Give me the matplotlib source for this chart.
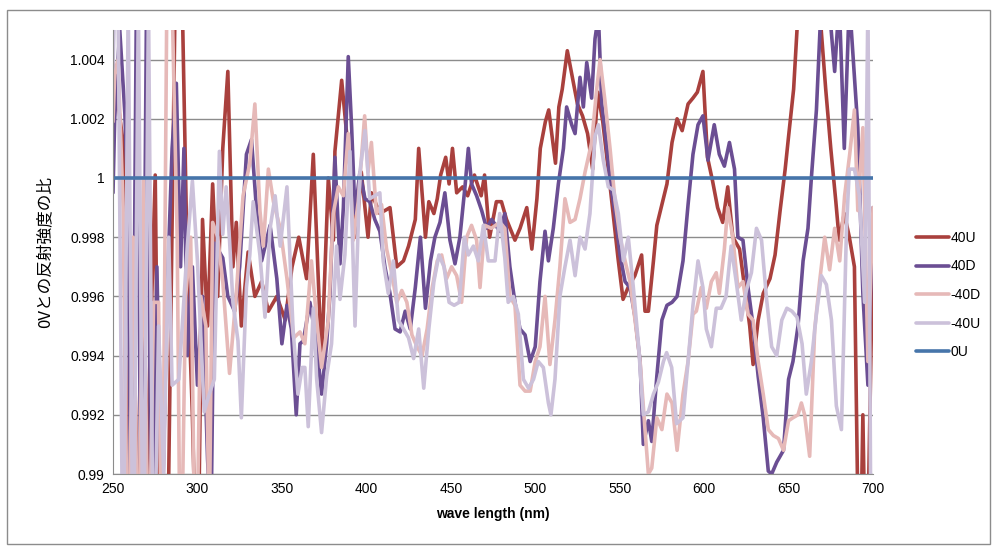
import matplotlib
matplotlib.use("Agg")
import matplotlib.pyplot as plt
from matplotlib.patches import Rectangle
from matplotlib.ticker import FuncFormatter

# 40U
wl_40u = [250, 253, 256, 259, 263, 267, 271, 275, 278, 283, 287, 291, 294, 297, 300, 303, 306, 309,
          312, 315, 318, 321, 323, 326, 330, 334, 338, 342, 347, 352, 356, 360, 364.6, 368.6, 373.5,
          377.5, 380.5, 381.4, 385.4, 388, 391, 394, 397, 401, 403, 408, 414, 418, 422, 425, 429, 431,
          435, 437, 440, 442, 444, 447, 449, 451, 453.5, 457, 460, 464, 468, 470, 473, 477, 480, 483,
          488, 491, 495, 498, 501, 503, 506, 508, 512, 514, 516, 519, 522, 525, 528, 531, 534, 537,
          540, 544, 549, 552, 555, 559, 563, 565, 567, 570, 572, 575, 578, 581, 584, 587, 590.5,
          593.4, 596, 599.3, 602, 605, 608, 611, 614, 617, 621, 624, 627, 629, 632, 635, 639, 642,
          645, 648, 650, 653, 656, 662, 668, 672, 675, 678, 680, 683, 686, 689, 692, 694, 696, 700]
val_40u = [1.004, 1.0025, 1.0012, 0.985, 0.993, 0.984, 0.992, 1.0001, 0.984, 0.99, 1.007, 1.006,
           0.997, 0.992, 0.985, 0.9986, 0.995, 0.9998, 0.996, 1.001, 1.0036, 0.997, 0.9985, 0.995,
           0.9975, 0.996, 0.9965, 0.9955, 0.996, 0.9952, 0.997, 0.998, 0.9966, 1.0008, 0.9938,
           1.0, 0.9979, 1.0009, 1.0033, 1.0017, 1.0, 0.998, 1.0002, 0.998, 0.9995, 0.9988, 0.999,
           0.997, 0.9972, 0.9977, 0.9986, 1.001, 0.998, 0.9992, 0.9988, 0.9993, 1.0001, 1.0007,
           0.9998, 1.001, 0.9995, 0.9997, 0.9994, 1.0001, 0.9994, 1.0001, 0.998, 0.9992, 0.9992,
           0.9986, 0.9979, 0.9983, 0.999, 0.9976, 0.9993, 1.001, 1.0019, 1.0023, 1.0005, 1.0024,
           1.003, 1.0043, 1.0034, 1.0025, 1.0021, 1.0015, 1.0003, 1.0029, 1.0019, 0.9999, 0.9973,
           0.9959, 0.9963, 0.9967, 0.9974, 0.9955, 0.9955, 0.9972, 0.9984, 0.9991, 0.9998, 1.0012,
           1.002, 1.0016, 1.0025, 1.0027, 1.0029, 1.0036, 1.0007, 0.9999, 0.999, 0.9985, 0.9997,
           0.998, 0.9976, 0.9963, 0.995, 0.9937, 0.9952, 0.9961, 0.9966, 0.9974, 0.9989, 1.0003,
           1.0014, 1.003, 1.006, 1.0065, 1.006, 1.003, 1.001, 0.9992, 0.9979, 0.9988, 0.998, 0.997,
           0.985, 0.992, 0.985, 0.998]

# 40D
wl_40d = [250, 251, 254, 257, 259, 261, 264, 267, 270, 273, 276, 279, 282, 285, 287.5, 290, 292,
          294, 297, 300, 303, 306, 308, 310, 315, 318, 322, 325, 329, 332, 335, 338, 343, 347, 350,
          353, 355.6, 358.5, 360.7, 362.7, 366.6, 370.6, 373.5, 376.5, 378.5, 381.4, 384.4, 386.4,
          389.3, 391.3, 393.3, 396.2, 399.2, 402, 405, 408, 411, 414, 417, 420, 423, 426, 429, 432,
          435, 438, 440.6, 443.6, 446.5, 449.5, 452.5, 455.4, 458.4, 460.4, 462.3, 465.3, 468.3,
          471.2, 474.2, 479, 482, 485, 488, 491, 494, 497, 500, 502.8, 505.8, 507.8, 510.7, 513.7,
          516.7, 518.6, 521.6, 523.6, 526.5, 528.5, 530.5, 533.4, 535.4, 537.4, 539.4, 542.3, 544.3,
          547.3, 550.2, 553.2, 556.1, 559.1, 562.1, 564, 567, 569, 572, 575, 578, 581, 584, 587.5,
          590.5, 593.4, 596.4, 599.3, 602.3, 606, 609, 612, 615, 618, 620, 623, 626, 629, 632, 635,
          638, 640, 643, 647, 650, 652.6, 655.6, 658.6, 661.5, 663.5, 666.5, 669.4, 673, 677.3, 680,
          683, 686, 689, 691, 694, 697, 700]
val_40d = [0.9995, 1.002, 1.005, 1.0022, 0.999, 0.985, 1.007, 0.985, 1.007, 0.985, 0.997, 0.988,
           0.996, 1.001, 1.0032, 0.997, 1.001, 0.994, 0.997, 0.993, 0.996, 0.9905, 0.988, 0.9978,
           0.9973, 0.996, 0.9955, 0.997, 1.0008, 1.0013, 0.9989, 0.9972, 0.9984, 0.9966, 0.9944,
           0.9957, 0.9949, 0.992, 0.9944, 0.9945, 0.9958, 0.9944, 0.9927, 0.9944, 0.9961, 1.0007,
           0.9971, 0.999, 1.0041, 1.0017, 0.9988, 1.0002, 0.9993, 0.9992, 0.9986, 0.9982, 0.997,
           0.9961, 0.9949, 0.9948, 0.9955, 0.9949, 0.9963, 0.998, 0.9956, 0.9972, 0.998, 0.9985,
           0.9995, 0.9979, 0.9971, 0.998, 0.9997, 1.001, 0.9998, 0.9994, 0.9989, 0.9983, 0.9986,
           0.9982, 0.9988, 0.997, 0.9958, 0.9949, 0.9947, 0.9938, 0.9943, 0.9965, 0.9982, 0.9972,
           0.9983, 0.9998, 1.001, 1.0024, 1.0018, 1.0015, 1.0034, 1.0024, 1.0039, 1.0027, 1.0047,
           1.0055, 1.0025, 1.0011, 0.9999, 0.9988, 0.9974, 0.9965, 0.9963, 0.9953, 0.9938, 0.991,
           0.9918, 0.9911, 0.9933, 0.9952, 0.9957, 0.9958, 0.996, 0.9972, 0.9991, 1.0008, 1.0018,
           1.0021, 1.0006, 1.0018, 1.0008, 1.0004, 1.0012, 1.0003, 0.998, 0.9979, 0.9963, 0.995,
           0.9933, 0.9919, 0.9901, 0.99, 0.9904, 0.9908, 0.9932, 0.9938, 0.995, 0.9972, 0.9983,
           1.0, 1.0023, 1.006, 1.0065, 1.0036, 1.006, 1.001, 1.006, 1.0034, 1.0017, 0.9961, 0.993,
           0.999]

# -40D
wl_m40d = [250, 251, 253, 256, 259, 262, 265, 268, 271, 274, 277, 279, 282, 285, 288, 290, 293,
           296, 299, 302, 305, 307, 309, 312, 315, 319, 323, 327, 331, 334, 337, 339, 342, 345, 349,
           353, 357, 360.7, 363.6, 367.5, 370.6, 373.5, 377.5, 380.4, 383.4, 386.4, 389.3, 392.3,
           395.2, 399, 401, 403, 406, 409, 412, 415, 418, 421, 424, 427, 430, 433, 436, 439, 442,
           444.6, 447.5, 450.5, 453.5, 456.4, 459.4, 462.3, 465.3, 467.3, 470.2, 474, 479, 482, 485,
           488, 491, 494, 497, 500, 502.8, 505.8, 508.7, 511.7, 514.6, 517.6, 520.6, 523.6, 526.5,
           529.5, 533.4, 536.4, 538.4, 541.3, 544.3, 547.3, 550.2, 553.2, 556.1, 559.1, 562.1, 565,
           567, 569, 572, 575, 578, 581, 584, 587.5, 590.5, 593.4, 595.4, 598.3, 601.3, 604.3, 607.2,
           609, 612, 614, 617, 620, 623, 626, 629, 632, 635, 638, 641, 644, 647, 650, 652.6, 655.6,
           657.6, 659.5, 662.5, 665.5, 668.4, 671.4, 674.3, 677.3, 680.3, 683.2, 686.2, 689, 691,
           694, 697, 700]
val_m40d = [1.0019, 1.0035, 1.004, 0.999, 0.985, 0.998, 0.985, 1.0, 0.985, 0.9958, 0.9958, 0.985,
            1.007, 1.006, 0.998, 0.985, 0.996, 0.998, 0.985, 0.996, 0.995, 0.988, 0.9985, 0.998,
            0.9965, 0.9934, 0.9961, 0.9994, 1.0005, 1.0025, 0.9989, 0.9977, 1.0003, 0.9992, 0.9983,
            0.9966, 0.9946, 0.9948, 0.9944, 0.9972, 0.9952, 0.9936, 0.9952, 0.9988, 0.9997, 0.9994,
            1.0015, 0.9979, 0.9992, 1.0021, 1.0002, 1.0012, 0.9988, 0.9991, 0.9976, 0.9968, 0.9958,
            0.9962, 0.9958, 0.9947, 0.9943, 0.994, 0.9949, 0.9963, 0.9972, 0.9974, 0.9966, 0.997,
            0.9967, 0.9958, 0.998, 0.9984, 0.9979, 0.9963, 0.9984, 0.9983, 0.9985, 0.9983, 0.996,
            0.9957, 0.993, 0.9928, 0.9928, 0.9938, 0.9943, 0.996, 0.9937, 0.9952, 0.997, 0.9993,
            0.9985, 0.9986, 0.9993, 1.0002, 1.0012, 1.003, 1.004, 1.0026, 1.001, 0.9992, 0.998,
            0.9972, 0.9965, 0.9952, 0.9938, 0.9915, 0.99, 0.9902, 0.9919, 0.9915, 0.9927, 0.9924,
            0.9908, 0.9927, 0.9938, 0.9954, 0.9955, 0.9963, 0.9956, 0.9965, 0.9968, 0.9961, 0.9976,
            0.999, 0.998, 0.9963, 0.9965, 0.9954, 0.9952, 0.9938, 0.9927, 0.9915, 0.9913, 0.9912,
            0.9908, 0.9918, 0.9919, 0.992, 0.9924, 0.992, 0.9906, 0.9949, 0.9965, 0.998, 0.9969,
            0.9983, 0.9972, 0.9994, 1.0008, 1.0023, 0.9989, 1.0017, 0.9938, 0.999]

# -40U
wl_m40u = [250, 251, 253, 256, 259, 262, 265, 268, 271, 274, 277, 280, 283, 285, 289, 294, 297,
           300, 304, 307, 310, 313, 315, 317, 319, 321, 324, 326, 329, 331, 333, 337, 340, 343, 346,
           349, 353, 356.6, 359.5, 362, 363.6, 365.6, 368.6, 370.6, 373.5, 376.5, 379.4, 382.4,
           384.4, 387.3, 390.3, 393.3, 396.2, 399.2, 402, 405, 408, 410, 413, 416, 419, 422, 425,
           428, 431, 434, 437, 440, 443, 446, 449, 452, 455, 458, 460.4, 463.4, 466.3, 469.3, 472.2,
           476.2, 479, 482, 484, 487, 490, 493, 496, 499, 501.8, 504.8, 507.8, 509.3, 511.7, 514.6,
           517.6, 520.6, 523.6, 526.5, 529.5, 532.4, 535.4, 537.4, 540.3, 543.3, 546.3, 549.2,
           552.2, 555.1, 558.1, 561.1, 564, 567, 570, 572.9, 575.9, 577.8, 580.8, 583.7, 587.5,
           590.5, 593.4, 596.4, 599.3, 601.3, 604.3, 607.2, 610, 613, 616, 619, 622, 625, 628, 631,
           634, 637, 640, 643, 646, 649, 652, 655, 658, 660.5, 663.5, 666.5, 669.4, 672.4, 675.4,
           678.3, 681.3, 684.3, 686, 689, 692, 695, 697, 699, 700]
val_m40u = [1.0037, 1.006, 1.006, 0.985, 1.006, 0.985, 1.006, 0.985, 1.006, 0.985, 0.995, 0.99,
            0.998, 0.993, 0.9932, 0.9977, 0.9999, 0.9972, 0.9921, 0.9927, 0.9932, 1.0009, 0.9981,
            0.9997, 0.9979, 0.9958, 0.9945, 0.9919, 0.9963, 0.9974, 0.9992, 0.9974, 0.9953, 0.9983,
            0.9994, 0.9977, 0.9997, 0.9949, 0.9927, 0.9936, 0.9936, 0.9916, 0.9956, 0.9932, 0.9914,
            0.9933, 0.9944, 0.9977, 0.9959, 0.9974, 1.0009, 0.995, 1.0002, 1.0016, 0.9993, 0.9994,
            0.9995, 0.9972, 0.9961, 0.9972, 0.9952, 0.9949, 0.9946, 0.9939, 0.9949, 0.9929, 0.9949,
            0.9965, 0.9974, 0.997, 0.9958, 0.9957, 0.9958, 0.998, 0.9974, 0.9977, 0.9972, 0.9984,
            0.9972, 0.9972, 0.9988, 0.9973, 0.9958, 0.996, 0.9954, 0.9932, 0.9929, 0.9932, 0.9938,
            0.9936, 0.9924, 0.992, 0.9932, 0.996, 0.997, 0.9979, 0.9967, 0.998, 0.9976, 0.9988,
            1.0014, 1.0018, 1.0006, 0.9997, 0.9996, 0.9988, 0.9972, 0.998, 0.9963, 0.9944, 0.992,
            0.9921, 0.9927, 0.9931, 0.9938, 0.9941, 0.9936, 0.9917, 0.9919, 0.9938, 0.9957, 0.9972,
            0.9963, 0.9949, 0.9943, 0.9956, 0.9956, 0.996, 0.9977, 0.9965, 0.9952, 0.9962, 0.9968,
            0.9983, 0.9979, 0.9959, 0.9943, 0.994, 0.9952, 0.9956, 0.9955, 0.9953, 0.9944, 0.9927,
            0.9938, 0.9954, 0.9967, 0.9964, 0.9952, 0.9923, 0.9915, 0.9983, 1.0003, 1.0003, 0.9994,
            0.9958, 1.006, 0.985, 0.989]

# 0U (reference)
wl_0u = [250, 700]
val_0u = [1.0, 1.0]

series = [
    ("40U", wl_40u, val_40u, "#A9403D"),
    ("40D", wl_40d, val_40d, "#6B4E93"),
    ("-40D", wl_m40d, val_m40d, "#E6B9B8"),
    ("-40U", wl_m40u, val_m40u, "#CCC1DA"),
    ("0U", wl_0u, val_0u, "#4675AA"),
]

plt.rcParams["font.family"] = ["Liberation Sans", "DejaVu Sans"]

fig = plt.figure(figsize=(9.92, 5.48), dpi=100)
ax = fig.add_axes([113 / 992, 1 - 474 / 548, 760 / 992, 444 / 548])

for name, x, y, c in series:
    ax.plot(x, y, color=c, lw=2.6, label=name,
            solid_joinstyle="round", solid_capstyle="round")

ax.set_xlim(250, 700)
ax.set_ylim(0.99, 1.005)
ax.set_xticks(range(250, 701, 50))
ax.set_yticks([0.99, 0.992, 0.994, 0.996, 0.998, 1.0, 1.002, 1.004])
ax.yaxis.set_major_formatter(FuncFormatter(lambda v, p: "%g" % round(v, 3)))
ax.grid(axis="y", color="#8c8c8c", lw=1)
ax.set_axisbelow(True)
for s in ["top", "right"]:
    ax.spines[s].set_visible(False)
for s in ["left", "bottom"]:
    ax.spines[s].set_color("#8c8c8c")
ax.tick_params(axis="both", length=0, labelsize=10, colors="#000000", pad=6)

ax.set_xlabel("wave length (nm)", fontsize=10, fontweight="bold", labelpad=8)
ax.set_ylabel("0Vとの反射強度の比", fontsize=12,
              family=["Noto Sans CJK JP", "DejaVu Sans"], labelpad=12)

fig.legend(loc="center left", bbox_to_anchor=(903 / 992, 1 - 295 / 548),
           frameon=False, fontsize=10, handlelength=2.4, handletextpad=0.1,
           labelspacing=1.05)

fig.patches.append(Rectangle((7 / 992, 4 / 548), 983 / 992, 534 / 548,
                             transform=fig.transFigure, fill=False,
                             edgecolor="#8c8c8c", lw=1))

fig.savefig("out.png", dpi=100)
